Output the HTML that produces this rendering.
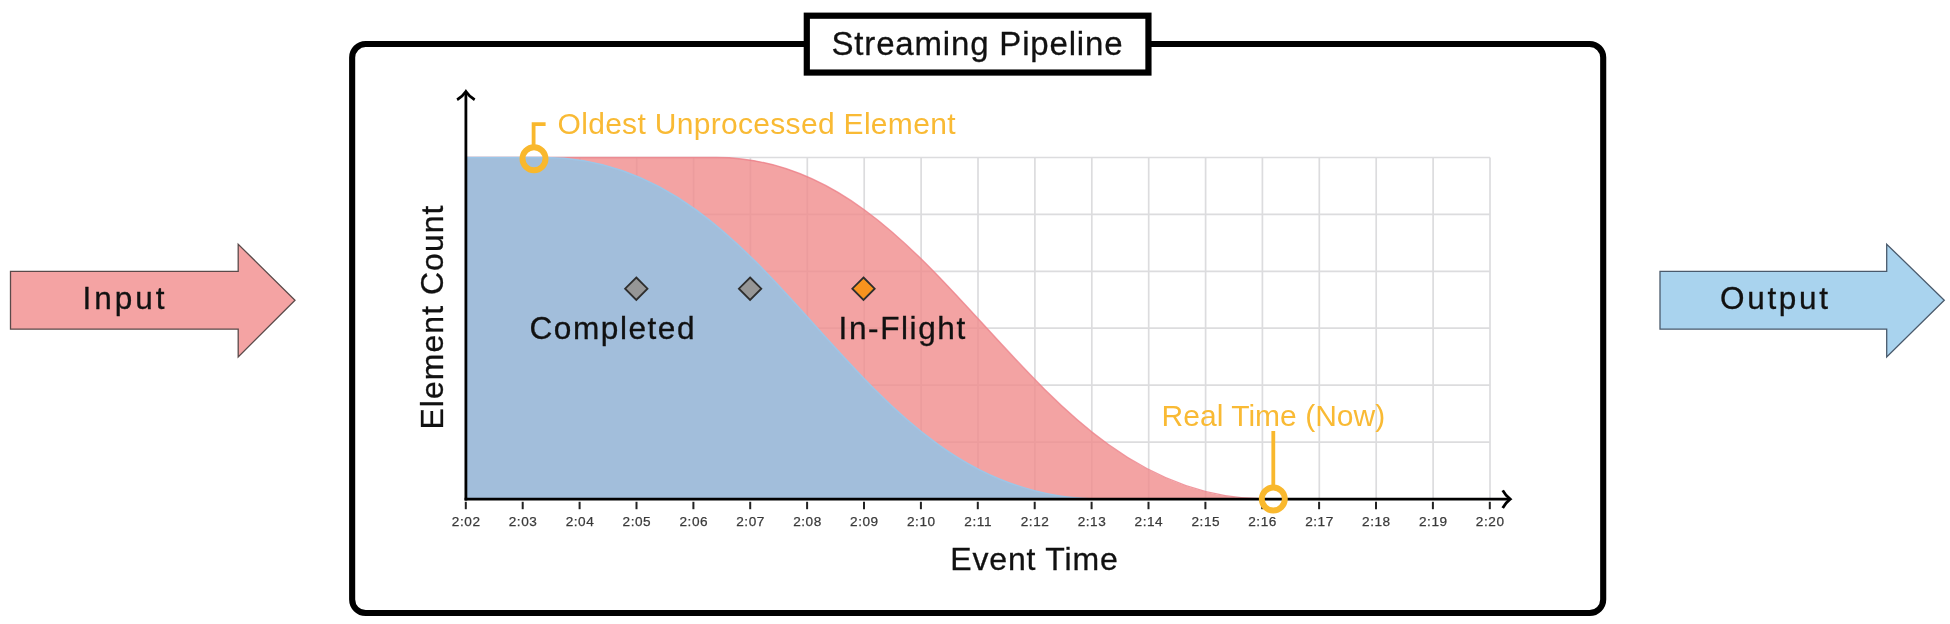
<!DOCTYPE html>
<html><head><meta charset="utf-8"><title>Streaming Pipeline</title>
<style>
html,body{margin:0;padding:0;background:#fff;}
body{width:1950px;height:624px;overflow:hidden;font-family:"Liberation Sans",sans-serif;}
svg{display:block;filter:blur(0.45px);}
text{font-family:"Liberation Sans",sans-serif;}
</style></head><body>
<svg width="1950" height="624" viewBox="0 0 1950 624">
<rect width="1950" height="624" fill="#fff"/>
<!-- input arrow -->
<path d="M10.5 271.3 H238.2 V244.2 L295 300.2 L238.2 357 V329.2 H10.5 Z" fill="#f4a3a3" stroke="#5a4a4a" stroke-width="1.3"/>
<text id="t_input" x="82.5" y="308.5" font-size="31.5" fill="#111" stroke="#111" stroke-width="0.3" textLength="82" lengthAdjust="spacing">Input</text>
<!-- output arrow -->
<path d="M1660 271.3 H1886.7 V244.2 L1944.3 300.2 L1886.7 357 V329.2 H1660 Z" fill="#a9d3ee" stroke="#4a5a6c" stroke-width="1.3"/>
<text id="t_output" x="1720" y="308.5" font-size="31.5" fill="#111" stroke="#111" stroke-width="0.3" textLength="108" lengthAdjust="spacing">Output</text>
<!-- pipeline box -->
<rect x="352.15" y="44.05" width="1251.05" height="568.95" rx="13.5" ry="13.5" fill="none" stroke="#000" stroke-width="6.1"/>
<rect x="806.8" y="15.7" width="341.65" height="56.85" fill="#fff" stroke="#000" stroke-width="6.2"/>
<text id="t_title" x="831.5" y="54.5" font-size="33" fill="#111" stroke="#111" stroke-width="0.3" textLength="291" lengthAdjust="spacing">Streaming Pipeline</text>
<!-- grid -->
<g stroke="#dcdcde" stroke-width="1.7"><line x1="522.9" y1="157.5" x2="522.9" y2="499.0"/><line x1="579.8" y1="157.5" x2="579.8" y2="499.0"/><line x1="636.7" y1="157.5" x2="636.7" y2="499.0"/><line x1="693.6" y1="157.5" x2="693.6" y2="499.0"/><line x1="750.4" y1="157.5" x2="750.4" y2="499.0"/><line x1="807.3" y1="157.5" x2="807.3" y2="499.0"/><line x1="864.2" y1="157.5" x2="864.2" y2="499.0"/><line x1="921.1" y1="157.5" x2="921.1" y2="499.0"/><line x1="978.0" y1="157.5" x2="978.0" y2="499.0"/><line x1="1034.9" y1="157.5" x2="1034.9" y2="499.0"/><line x1="1091.8" y1="157.5" x2="1091.8" y2="499.0"/><line x1="1148.7" y1="157.5" x2="1148.7" y2="499.0"/><line x1="1205.6" y1="157.5" x2="1205.6" y2="499.0"/><line x1="1262.4" y1="157.5" x2="1262.4" y2="499.0"/><line x1="1319.3" y1="157.5" x2="1319.3" y2="499.0"/><line x1="1376.2" y1="157.5" x2="1376.2" y2="499.0"/><line x1="1433.1" y1="157.5" x2="1433.1" y2="499.0"/><line x1="1490.0" y1="157.5" x2="1490.0" y2="499.0"/><line x1="466.0" y1="157.5" x2="1490.0" y2="157.5"/><line x1="466.0" y1="214.4" x2="1490.0" y2="214.4"/><line x1="466.0" y1="271.3" x2="1490.0" y2="271.3"/><line x1="466.0" y1="328.2" x2="1490.0" y2="328.2"/><line x1="466.0" y1="385.2" x2="1490.0" y2="385.2"/><line x1="466.0" y1="442.1" x2="1490.0" y2="442.1"/></g>
<!-- areas -->
<path d="M466.0 499.0 L466.0 157.5 L716.7 157.5 C947.3 157.5 1023.7 499.0 1265.1 499.0 Z" fill="#f08c8c" fill-opacity="0.8" stroke="#ec8088" stroke-opacity="0.8" stroke-width="1.4"/>
<path d="M466.0 499.0 L466.0 157.5 L544.0 157.5 C786.6 157.5 846.0 499.0 1099.3 499.0 Z" fill="#a2bedb" stroke="#9cc6e8" stroke-width="1.4"/>
<!-- axes -->
<g stroke="#000" stroke-width="2.8" fill="none" stroke-linecap="butt">
<line x1="465.9" y1="500.6" x2="465.9" y2="92.5"/>
<line x1="464.6" y1="499.2" x2="1509.5" y2="499.2"/>
<path d="M457.1 99.8 Q462.3 96.8 465.9 91.5 Q469.5 96.8 474.7 99.8" stroke-linejoin="miter"/>
<path d="M1502.7 490.4 Q1505.6 495.6 1510.2 499.2 Q1505.6 502.8 1502.7 508" stroke-linejoin="miter"/>
</g>
<g stroke="#222" stroke-width="2"><line x1="465.8" y1="501.8" x2="465.8" y2="509.2"/><line x1="522.7" y1="501.8" x2="522.7" y2="509.2"/><line x1="579.6" y1="501.8" x2="579.6" y2="509.2"/><line x1="636.5" y1="501.8" x2="636.5" y2="509.2"/><line x1="693.4" y1="501.8" x2="693.4" y2="509.2"/><line x1="750.2" y1="501.8" x2="750.2" y2="509.2"/><line x1="807.1" y1="501.8" x2="807.1" y2="509.2"/><line x1="864.0" y1="501.8" x2="864.0" y2="509.2"/><line x1="920.9" y1="501.8" x2="920.9" y2="509.2"/><line x1="977.8" y1="501.8" x2="977.8" y2="509.2"/><line x1="1034.7" y1="501.8" x2="1034.7" y2="509.2"/><line x1="1091.6" y1="501.8" x2="1091.6" y2="509.2"/><line x1="1148.5" y1="501.8" x2="1148.5" y2="509.2"/><line x1="1205.4" y1="501.8" x2="1205.4" y2="509.2"/><line x1="1262.2" y1="501.8" x2="1262.2" y2="509.2"/><line x1="1319.1" y1="501.8" x2="1319.1" y2="509.2"/><line x1="1376.0" y1="501.8" x2="1376.0" y2="509.2"/><line x1="1432.9" y1="501.8" x2="1432.9" y2="509.2"/><line x1="1489.8" y1="501.8" x2="1489.8" y2="509.2"/></g>
<g font-size="13.6" fill="#3a3a3a" stroke="#3a3a3a" stroke-width="0.25" letter-spacing="0.55"><text x="466.2" y="526.4" text-anchor="middle">2:02</text><text x="523.1" y="526.4" text-anchor="middle">2:03</text><text x="580.0" y="526.4" text-anchor="middle">2:04</text><text x="636.9" y="526.4" text-anchor="middle">2:05</text><text x="693.8" y="526.4" text-anchor="middle">2:06</text><text x="750.6" y="526.4" text-anchor="middle">2:07</text><text x="807.5" y="526.4" text-anchor="middle">2:08</text><text x="864.4" y="526.4" text-anchor="middle">2:09</text><text x="921.3" y="526.4" text-anchor="middle">2:10</text><text x="978.2" y="526.4" text-anchor="middle">2:11</text><text x="1035.1" y="526.4" text-anchor="middle">2:12</text><text x="1092.0" y="526.4" text-anchor="middle">2:13</text><text x="1148.9" y="526.4" text-anchor="middle">2:14</text><text x="1205.8" y="526.4" text-anchor="middle">2:15</text><text x="1262.6" y="526.4" text-anchor="middle">2:16</text><text x="1319.5" y="526.4" text-anchor="middle">2:17</text><text x="1376.4" y="526.4" text-anchor="middle">2:18</text><text x="1433.3" y="526.4" text-anchor="middle">2:19</text><text x="1490.2" y="526.4" text-anchor="middle">2:20</text></g>
<!-- diamonds -->
<path d="M636.3 277.5 L647.5 288.7 L636.3 299.9 L625.1 288.7 Z" fill="#969696" stroke="#2e2e2e" stroke-width="1.8" stroke-linejoin="miter"/><path d="M750.1 277.5 L761.3 288.7 L750.1 299.9 L738.9 288.7 Z" fill="#969696" stroke="#2e2e2e" stroke-width="1.8" stroke-linejoin="miter"/><path d="M863.5 277.5 L874.7 288.7 L863.5 299.9 L852.3 288.7 Z" fill="#f7931e" stroke="#2e2e2e" stroke-width="1.8" stroke-linejoin="miter"/>
<text id="t_completed" x="529.5" y="339" font-size="31.6" fill="#111" stroke="#111" stroke-width="0.3" textLength="165" lengthAdjust="spacing">Completed</text>
<text id="t_inflight" x="838.6" y="339" font-size="31.6" fill="#111" stroke="#111" stroke-width="0.3" textLength="126.6" lengthAdjust="spacing">In-Flight</text>
<text id="t_event" x="950.3" y="570" font-size="32" fill="#111" stroke="#111" stroke-width="0.3" textLength="167.4" lengthAdjust="spacing">Event Time</text>
<text id="t_ycount" transform="translate(443,429.5) rotate(-90)" font-size="32" fill="#111" stroke="#111" stroke-width="0.3" textLength="224" lengthAdjust="spacing">Element Count</text>
<!-- markers -->
<g stroke="#f9b82d" fill="none">
<path d="M545.6 124.2 H533.6 V146" stroke-width="3.8"/>
<circle cx="534" cy="158.7" r="11.5" stroke-width="5.9"/>
<path d="M1273.3 431 V487" stroke-width="3.8"/>
<circle cx="1273.3" cy="499" r="11.5" stroke-width="5.9"/>
</g>
<text id="t_oldest" x="557.5" y="134" font-size="30" fill="#f9ba34" textLength="398" lengthAdjust="spacing">Oldest Unprocessed Element</text>
<text id="t_real" x="1161.6" y="426" font-size="30" fill="#f9ba34" textLength="223.6" lengthAdjust="spacing">Real Time (Now)</text>
</svg>
</body></html>
